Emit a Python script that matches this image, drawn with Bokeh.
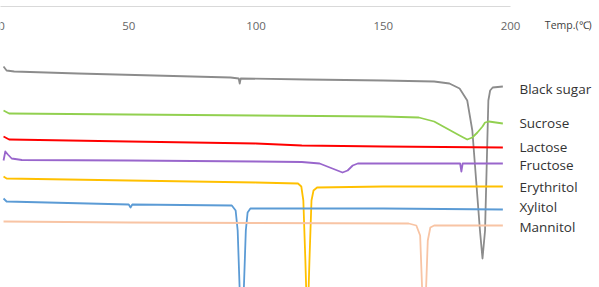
from bokeh.plotting import figure
from bokeh.models import Range1d
from bokeh.embed import file_html
from bokeh.resources import INLINE
from bokeh.core.properties import value

# ---- data (temperature in °C, signal as downward offset, arbitrary units) ----
black_t = [0.8, 2, 5, 30, 60, 90, 93.2, 93.6, 94.0, 120, 150, 170, 176, 180, 183, 185, 186.5, 188, 189, 190, 190.8, 191.3, 192, 193, 197]
black_y = [66, 70, 71, 73, 75, 77, 78, 83, 78, 79, 80, 81, 83, 88, 100, 130, 180, 230, 258, 230, 150, 100, 90, 87, 86]

sucrose_t = [0.8, 3, 50, 100, 150, 164, 170, 175, 180, 183, 185, 187, 189, 190, 191.5, 197]
sucrose_y = [110, 113, 114, 115, 116, 117, 121, 128, 135, 139, 137, 132, 126, 122, 121, 123]

lactose_t = [0.8, 3, 50, 100, 118, 150, 197]
lactose_y = [136, 139, 141, 143, 145, 146, 147]

fructose_t = [0.8, 1.5, 2.5, 4, 8, 50, 100, 118, 125, 130, 134, 136, 138, 140, 150, 180.2, 180.7, 181.2, 197]
fructose_y = [160, 151, 154, 158, 159.5, 160, 161, 161.5, 163, 168, 172, 170, 165, 163, 163, 163, 171, 163, 163]

erythritol_t = [0.8, 2, 50, 100, 116.5, 117.8, 118.6, 119.4, 120.2, 121.0, 121.8, 122.6, 124, 150, 197]
erythritol_y = [176, 178, 180, 182, 183, 186, 200, 260, 330, 260, 200, 190, 187, 186, 186]

xylitol_t = [0.8, 2, 50, 50.7, 51.4, 90.5, 92, 92.8, 93.6, 94.4, 95.2, 96, 96.7, 97.8, 150, 197]
xylitol_y = [198, 201, 204, 207, 204, 205, 210, 230, 290, 330, 290, 230, 212, 208, 208, 209]

mannitol_t = [0.8, 50, 100, 160, 163, 164.5, 165.3, 166, 166.8, 167.5, 168.5, 170, 197]
mannitol_y = [221, 222, 222.5, 223, 225, 235, 290, 330, 290, 240, 227, 225, 225]

names = ["Black sugar", "Sucrose", "Lactose", "Fructose", "Erythritol", "Xylitol", "Mannitol"]
label_y = [88, 122, 146, 164, 186, 206, 226]
colors = ["#8c8c8c", "#92d050", "#ff0000", "#9966cc", "#ffc000", "#5b9bd5", "#f8c4a4"]

ticks = [0, 50, 100, 150, 200]
tick_labels = ["0", "50", "100", "150", "200"]
axis_title = "Temp.(\u2103)"

# ---- figure ----
scale = 2.545  # px per degree
x0 = -1 / scale
p = figure(width=599, height=287, output_backend="svg", toolbar_location=None,
           x_range=Range1d(x0, x0 + 599 / scale), y_range=Range1d(287, 0),
           min_border=0, min_border_left=0, min_border_right=0,
           min_border_top=0, min_border_bottom=0)
p.axis.visible = False
p.grid.visible = False
p.outline_line_color = None
p.background_fill_color = "white"
p.border_fill_color = "white"

# top axis line and tick labels
p.line([ticks[0] - 1, ticks[-1]], [6, 6], line_color="#d9d9d9", line_width=1)
p.text(ticks, [25] * len(ticks), text=tick_labels, text_align="center",
       text_baseline="middle", text_font=value("Open Sans"),
       text_font_size="11.5px", text_color="#666666")
p.text([213.5], [24], text=[axis_title], text_align="left", text_baseline="middle",
       text_font=value("Open Sans"), text_font_size="10.5px", text_color="#404040")

series = [(black_t, black_y), (sucrose_t, sucrose_y), (lactose_t, lactose_y),
          (fructose_t, fructose_y), (erythritol_t, erythritol_y),
          (xylitol_t, xylitol_y), (mannitol_t, mannitol_y)]
for (t, y), c in zip(series, colors):
    p.line(t, y, line_color=c, line_width=1.8, line_join="round")

p.text([203.5] * len(names), label_y, text=names, text_align="left",
       text_baseline="middle", text_font=value("Open Sans"),
       text_font_size="13.5px", text_color="#333333")

open("out.html", "w").write(file_html(p, INLINE))
